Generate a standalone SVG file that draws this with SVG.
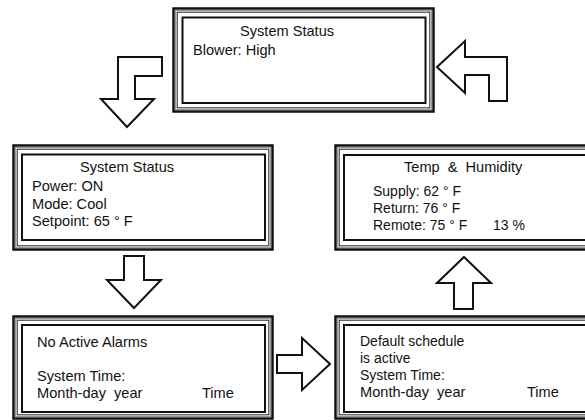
<svg xmlns="http://www.w3.org/2000/svg" width="585" height="420" viewBox="0 0 585 420">
<style>
.o{fill:none;stroke:#111;stroke-width:2.5}
.g{fill:none;stroke:#999;stroke-width:1.2}
.t{fill:none;stroke:#222;stroke-width:1}
.i{fill:#fff;stroke:#111;stroke-width:2}
.a{fill:#fff;stroke:#111;stroke-width:2;stroke-linejoin:miter}
text{font-family:"Liberation Sans",Arial,sans-serif;font-size:14.6px;fill:#111}
.w{word-spacing:4px}
.s{font-size:14px}
</style>
<rect width="585" height="420" fill="#fff"/>
<g id="top">
<rect class="o" x="173.5" y="8.5" width="260" height="103"/>
<rect class="g" x="175.5" y="10.5" width="256" height="99"/>
<rect class="t" x="177.2" y="12.2" width="252.6" height="95.6"/>
<rect class="i" x="182.5" y="17.5" width="243" height="85.5"/>
<text x="240" y="36">System Status</text>
<text x="193" y="55">Blower: High</text>
</g>
<g id="status">
<rect class="o" x="13.5" y="145.5" width="259" height="104"/>
<rect class="g" x="15.5" y="147.5" width="255" height="100"/>
<rect class="t" x="17.2" y="149.2" width="251.6" height="96.6"/>
<rect class="i" x="22" y="154.5" width="243" height="85.5"/>
<text x="80" y="172">System Status</text>
<text x="32" y="191">Power: ON</text>
<text x="32" y="208.5">Mode: Cool</text>
<text x="32" y="226">Setpoint: 65 ° F</text>
</g>
<g id="temp">
<rect class="o" x="335.5" y="145.5" width="270" height="104"/>
<rect class="g" x="337.5" y="147.5" width="266" height="100"/>
<rect class="t" x="339.2" y="149.2" width="262.6" height="96.6"/>
<rect class="i" x="344" y="155" width="250" height="85"/>
<text class="w" x="404" y="172">Temp &amp; Humidity</text>
<text class="s" x="373" y="196">Supply: 62 ° F</text>
<text class="s" x="373" y="213">Return: 76 ° F</text>
<text class="s" x="373" y="229.5">Remote: 75 ° F<tspan x="493">13 %</tspan></text>
</g>
<g id="alarms">
<rect class="o" x="13.5" y="316.5" width="259" height="102"/>
<rect class="g" x="15.5" y="318.5" width="255" height="98"/>
<rect class="t" x="17.2" y="320.2" width="251.6" height="94.6"/>
<rect class="i" x="22" y="325" width="243" height="87"/>
<text x="37" y="347">No Active Alarms</text>
<text x="37" y="381">System Time:</text>
<text x="37" y="397.5"><tspan class="w">Month-day year</tspan><tspan x="202">Time</tspan></text>
</g>
<g id="schedule">
<rect class="o" x="335.5" y="316.5" width="270" height="102"/>
<rect class="g" x="337.5" y="318.5" width="266" height="98"/>
<rect class="t" x="339.2" y="320.2" width="262.6" height="94.6"/>
<rect class="i" x="344" y="325" width="250" height="87"/>
<text class="s" x="360" y="346">Default schedule</text>
<text class="s" x="360" y="363">is active</text>
<text class="s" x="360" y="380">System Time:</text>
<text x="360" y="397"><tspan class="w">Month-day year</tspan><tspan x="527">Time</tspan></text>
</g>
<g id="connectors">
<polygon class="a" points="118,57 162,57 162,76 135,76 135,99 154,99 127,127 101,99 118,99"/>
<polygon class="a" points="437,67 465,41 465,57 507,57 507,101 489,101 489,75 465,75 465,93"/>
<polygon class="a" points="124,256 144,256 144,280 161,280 134,308 107,280 124,280"/>
<polygon class="a" points="277,355 302,355 302,338 330,364 302,390 302,373 277,373"/>
<polygon class="a" points="464,257 491,283 473,283 473,309 454,309 454,283 437,283"/>
</g>
</svg>
